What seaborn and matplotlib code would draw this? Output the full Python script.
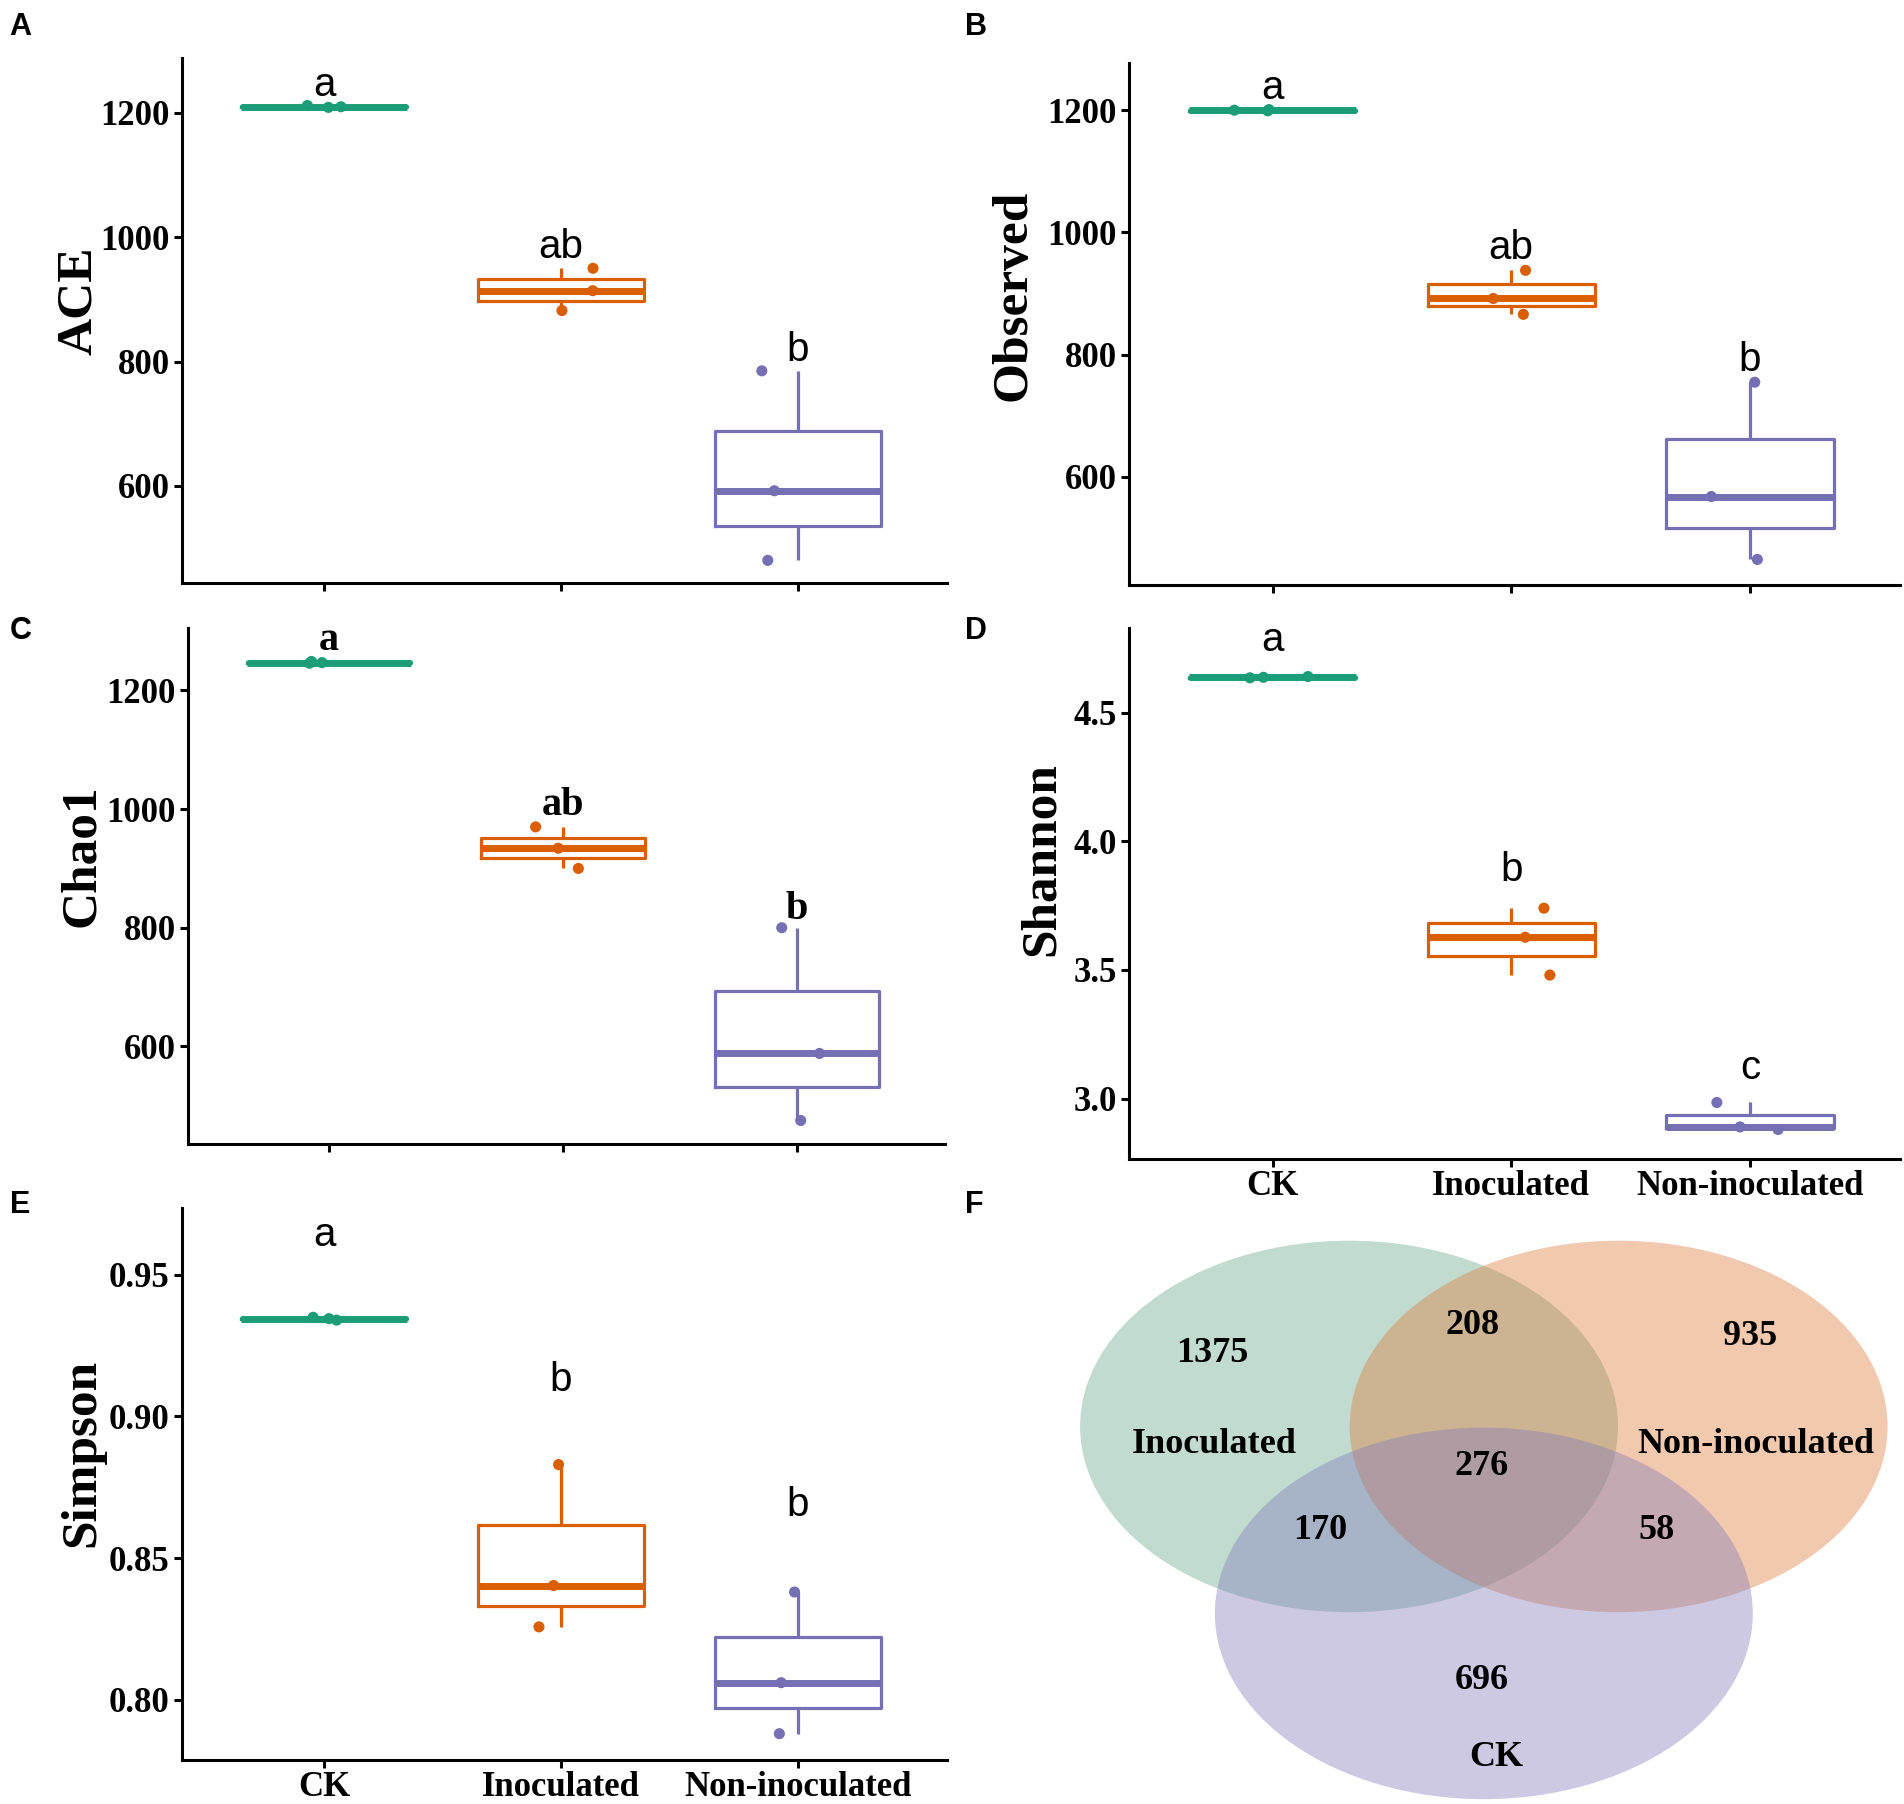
import numpy as np
import pandas as pd
import matplotlib
matplotlib.use("Agg")
import matplotlib.pyplot as plt
import seaborn as sns
from matplotlib.patches import Ellipse

# ---------------- data ----------------
groups = ["CK", "Inoculated", "Non-inoculated"]
palette = ["#1B9E77", "#D95F02", "#7570B3"]

ace = [1209, 1210, 1212, 882, 914, 950, 480, 592, 785]
observed = [1199, 1200, 1201, 866, 892, 938, 465, 568, 755]
chao1 = [1246, 1247, 1249, 900, 934, 970, 475, 588, 800]
shannon = [4.635, 4.637, 4.640, 3.48, 3.627, 3.74, 2.88, 2.89, 2.985]
simpson = [0.934, 0.9345, 0.935, 0.8257, 0.8403, 0.883, 0.788, 0.806, 0.838]

ace_letters = ["a", "ab", "b"]
ace_letter_y = [1245, 984, 818]
observed_letters = ["a", "ab", "b"]
observed_letter_y = [1236, 974, 792]
chao1_letters = ["a", "ab", "b"]
chao1_letter_y = [1284, 1006, 830]
shannon_letters = ["a", "b", "c"]
shannon_letter_y = [4.783, 3.89, 3.118]
simpson_letters = ["a", "b", "b"]
simpson_letter_y = [0.964, 0.913, 0.8689]

count_ticks = [600, 800, 1000, 1200]
count_ticklabels = ["600", "800", "1000", "1200"]
shannon_ticks = [3.0, 3.5, 4.0, 4.5]
shannon_ticklabels = ["3.0", "3.5", "4.0", "4.5"]
simpson_ticks = [0.80, 0.85, 0.90, 0.95]
simpson_ticklabels = ["0.80", "0.85", "0.90", "0.95"]

venn_sets = ["Inoculated", "Non-inoculated", "CK"]
venn_regions = ["Inoculated only", "Inoculated & Non-inoculated", "Non-inoculated only",
                "All three", "Inoculated & CK", "Non-inoculated & CK", "CK only"]
venn_counts = [1375, 208, 935, 276, 170, 58, 696]

# ---------------- style ----------------
plt.rcParams["font.family"] = ["Liberation Serif", "DejaVu Serif"]
plt.rcParams["font.weight"] = "bold"
np.random.seed(3)

W, H = 1568.0, 1486.0  # layout reference grid
fig = plt.figure(figsize=(19.04, 18.04), dpi=100)
fig.patch.set_facecolor("white")


def panel(rect, values, ylabel, ylim, ticks, ticklabels, letters, letter_y,
          label_xy, show_x=False, serif_letters=False):
    ax = fig.add_axes(rect)
    df = pd.DataFrame({"group": np.repeat(groups, 3), "value": values})
    sns.boxplot(data=df, x="group", y="value", hue="group", order=groups,
                hue_order=groups, palette=palette, fill=False, width=0.7,
                linewidth=2.3, showcaps=False, whis=1.5, dodge=False,
                medianprops={"linewidth": 5}, legend=False, ax=ax)
    sns.stripplot(data=df, x="group", y="value", hue="group", order=groups,
                  hue_order=groups, palette=palette, jitter=0.17, size=8,
                  dodge=False, legend=False, ax=ax, zorder=4)
    ax.set_xlim(-0.6, 2.63)
    ax.set_ylim(*ylim)
    ax.set_yticks(ticks)
    ax.set_yticklabels(ticklabels)
    ax.set_xticks(range(len(groups)))
    if show_x:
        ax.set_xticklabels(groups)
    else:
        ax.set_xticklabels([])
    ax.set_xlabel("")
    ax.set_ylabel(ylabel, fontsize=37, fontweight="bold", va="center")
    ax.yaxis.set_label_coords(*label_xy)
    for s in ["top", "right"]:
        ax.spines[s].set_visible(False)
    for s in ["left", "bottom"]:
        ax.spines[s].set_linewidth(2.2)
    ax.tick_params(axis="both", direction="out", length=6, width=2.2,
                   labelsize=25, pad=3, colors="black")
    ax.tick_params(axis="x", pad=2)
    for lbl in ax.get_yticklabels() + ax.get_xticklabels():
        lbl.set_fontweight("bold")
    for i, (t, y) in enumerate(zip(letters, letter_y)):
        if serif_letters:
            ax.text(i, y, t, ha="center", va="center", fontsize=29,
                    family=["Liberation Serif"], fontweight="bold")
        else:
            ax.text(i, y, t, ha="center", va="center", fontsize=29,
                    family=["Liberation Sans"], fontweight="normal")
    return ax


panel([150 / W, 1 - 480 / H, 630 / W, 432 / H], ace, "ACE", (444, 1288),
      count_ticks, count_ticklabels, ace_letters, ace_letter_y, (-0.135, 0.537))
panel([930 / W, 1 - 482 / H, 635 / W, 430 / H], observed, "Observed", (423, 1277),
      count_ticks, count_ticklabels, observed_letters, observed_letter_y, (-0.150, 0.556))
panel([155 / W, 1 - 942 / H, 623 / W, 425 / H], chao1, "Chao1", (436, 1306),
      count_ticks, count_ticklabels, chao1_letters, chao1_letter_y, (-0.140, 0.558),
      serif_letters=True)
panel([930 / W, 1 - 955 / H, 635 / W, 438 / H], shannon, "Shannon", (2.764, 4.83),
      shannon_ticks, shannon_ticklabels, shannon_letters, shannon_letter_y,
      (-0.113, 0.564), show_x=True)
panel([150 / W, 1 - 1450 / H, 630 / W, 455 / H], simpson, "Simpson", (0.7786, 0.9736),
      simpson_ticks, simpson_ticklabels, simpson_letters, simpson_letter_y,
      (-0.130, 0.556), show_x=True)

# ---------------- Venn diagram (panel F) ----------------
vax = fig.add_axes([880 / W, 0, (W - 880) / W, 1 - 1010 / H])
vax.set_xlim(880, W)
vax.set_ylim(H, 1010)
vax.axis("off")
ell_centers = [(1111, 1175), (1333, 1175), (1222, 1329)]
ell_colors = ["#64A587", "#DE7A39", "#827ABB"]
for c, col in zip(ell_centers, ell_colors):
    vax.add_patch(Ellipse(c, 443, 306, facecolor=col, edgecolor="none", alpha=0.4))
count_pos = [(998, 1115), (1213, 1092), (1441, 1101), (1220, 1208),
             (1087, 1261), (1364, 1261), (1220, 1384)]
for (x, y), n in zip(count_pos, venn_counts):
    vax.text(x, y, str(n), ha="center", va="center", fontsize=26, fontweight="bold")
set_label_pos = [(1000, 1190), (1446, 1190), (1232, 1448)]
for (x, y), name in zip(set_label_pos, venn_sets):
    vax.text(x, y, name, ha="center", va="center", fontsize=26, fontweight="bold")

# ---------------- panel letters ----------------
for letter, (x, y) in zip("ABCDEF", [(8, 22), (795, 22), (8, 520), (795, 520),
                                      (8, 993), (795, 993)]):
    fig.text(x / W, 1 - y / H, letter, ha="left", va="center", fontsize=22,
             family=["Liberation Sans"], fontweight="bold")

fig.savefig("out.png", dpi=100, facecolor="white")
